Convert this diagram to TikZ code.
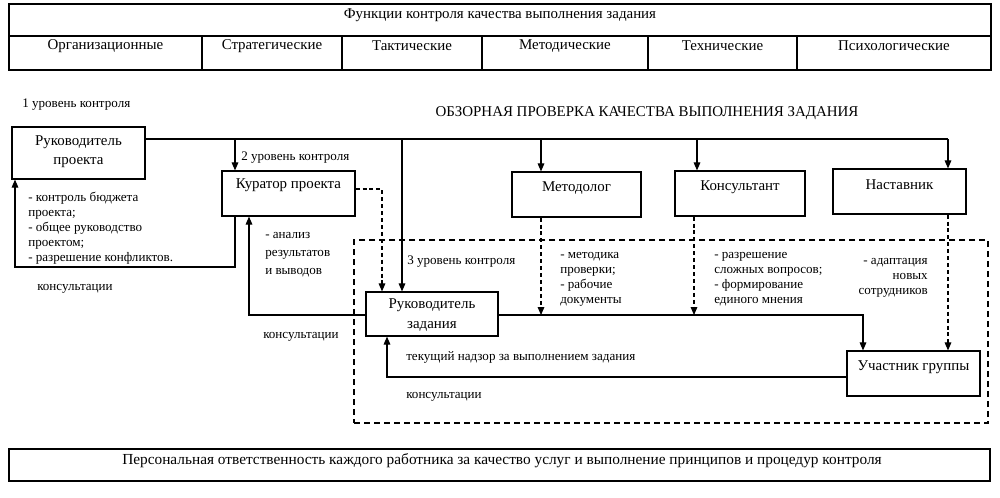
\documentclass[tikz,border=0pt]{standalone}
\usepackage{fontspec}
\setmainfont{Liberation Serif}
\usetikzlibrary{arrows.meta,fit,calc}
\newcommand\fbig{\fontsize{11.2pt}{13pt}\selectfont}
\newcommand\fmid{\fontsize{11.2pt}{13pt}\selectfont}
\newcommand\fsmall{\fontsize{9.8pt}{11.25pt}\selectfont}
\newcommand\fbot{\fontsize{11.5pt}{13pt}\selectfont}
\tikzset{
  box/.style={draw, line width=0.9pt, inner sep=0pt, fill=white},
  cell/.style={draw, line width=0.9pt, inner sep=0pt},
  zone/.style={draw, line width=0.8pt, dash pattern=on 4.5pt off 3pt, inner sep=0pt},
  conn/.style={line width=0.8pt},
  arr/.style={conn, -{Triangle[length=6pt,width=5pt]}},
  darr/.style={conn, dash pattern=on 3pt off 2.2pt, -{Triangle[length=6pt,width=5pt]}},
  txt/.style={inner sep=0pt, font=\fbig},
  lab/.style={inner sep=0pt, font=\fsmall},
  lst/.style={inner sep=0pt, font=\fsmall, align=left, anchor=north west}
}
\begin{document}
\begin{tikzpicture}[x=0.75pt,y=-0.75pt]
\useasboundingbox (0,0) rectangle (1000,497);
% top table
\node[cell, fit={(9,4)(991,36)}] (title) {};
\node[txt] at (500,15) {Функции контроля качества выполнения задания};
\node[cell, fit={(9,36)(202,70)}] (c1) {};
\node[cell, fit={(202,36)(342,70)}] (c2) {};
\node[cell, fit={(342,36)(482,70)}] (c3) {};
\node[cell, fit={(482,36)(648,70)}] (c4) {};
\node[cell, fit={(648,36)(797,70)}] (c5) {};
\node[cell, fit={(797,36)(991,70)}] (c6) {};
\node[txt] at (c1.center |- 0,46) {Организационные};
\node[txt] at (c2.center |- 0,46) {Стратегические};
\node[txt] at (c3.center |- 0,46) {Тактические};
\node[txt] at (c4.center |- 0,46) {Методические};
\node[txt] at (c5.center |- 0,46) {Технические};
\node[txt] at (c6.center |- 0,46) {Психологические};

% headings
\node[lab, anchor=west] (l1) at (22,105) {1 уровень контроля};
\node[txt, font=\fmid] (obz) at (647,113) {ОБЗОРНАЯ ПРОВЕРКА КАЧЕСТВА ВЫПОЛНЕНИЯ ЗАДАНИЯ};

% dashed zone
\node[zone, fit={(354,240)(988,423)}] (zone) {};

% boxes
\node[box, fit={(12,127)(145,179)}] (rp) {};
\node[txt, align=center] at (78.5,152) {Руководитель\\[1.5pt]проекта};
\node[box, fit={(222,171)(355,216)}] (kur) {};
\node[txt] at (kur.center |- 0,185) {Куратор проекта};
\node[box, fit={(512,172)(641,217)}] (met) {};
\node[txt] at (met.center |- 0,188) {Методолог};
\node[box, fit={(675,171)(805,216)}] (kons) {};
\node[txt] at (kons.center |- 0,187) {Консультант};
\node[box, fit={(833,169)(966,214)}] (nast) {};
\node[txt] at (nast.center |- 0,185) {Наставник};
\node[box, fit={(366,292)(498,336)}] (rz) {};
\node[txt, align=center] at (432,315) {Руководитель\\[1.5pt]задания};
\node[box, fit={(847,351)(980,396)}] (uch) {};
\node[txt] at (uch.center |- 0,367) {Участник группы};

% connectors from project leader
\draw[conn] (rp.east |- 0,139) -- (948,139);
\draw[arr] (235,139) -- (235,0 |- kur.north);
\draw[arr] (402,139) -- (402,0 |- rz.north);
\draw[arr] (541,139) -- (541,0 |- met.north);
\draw[arr] (697,139) -- (697,0 |- kons.north);
\draw[arr] (948,139) -- (948,0 |- nast.north);

\draw[arr] (235,0 |- kur.south) -- (235,267) -- (15,267) -- (15,0 |- rp.south);
\draw[arr] (rz.west |- 0,315) -- (249,315) -- (249,0 |- kur.south);
\draw[darr] (kur.east |- 0,189) -- (382,189) -- (382,0 |- rz.north);
\draw[arr] (rz.east |- 0,315) -- (863,315) -- (863,0 |- uch.north);
\draw[darr] (541,0 |- met.south) -- (541,315);
\draw[darr] (694,0 |- kons.south) -- (694,315);
\draw[darr] (948,0 |- nast.south) -- (948,0 |- uch.north);
\draw[arr] (uch.west |- 0,377) -- (387,377) -- (387,0 |- rz.south);

% labels
\node[lab, anchor=west] at (241,158) {2 уровень контроля};
\node[lab, anchor=west] at (407,262) {3 уровень контроля};
\node[lst] at (28,192) {- контроль бюджета\\проекта;\\- общее руководство\\проектом;\\- разрешение конфликтов.};
\node[lab, anchor=west] at (37,289) {консультации};
\node[lst] at (265,232) {- анализ\\[2.3pt]результатов\\[2.3pt]и выводов};
\node[lab, anchor=west] at (263,337) {консультации};
\node[lst] at (560,252) {- методика\\проверки;\\- рабочие\\документы};
\node[lst] at (714,252) {- разрешение\\сложных вопросов;\\- формирование\\единого мнения};
\node[lst, align=right, anchor=north east] at (928,258) {- адаптация\\новых\\сотрудников};
\node[lab, anchor=west] at (406,357) {текущий надзор за выполнением задания};
\node[lab, anchor=west] at (406,397) {консультации};

% bottom box
\node[cell, fit={(9,449)(990,481)}] (bot) {};
\node[txt, font=\fbot] at (502,461) {Персональная ответственность каждого работника за качество услуг и выполнение принципов и процедур контроля};
\end{tikzpicture}
\end{document}
